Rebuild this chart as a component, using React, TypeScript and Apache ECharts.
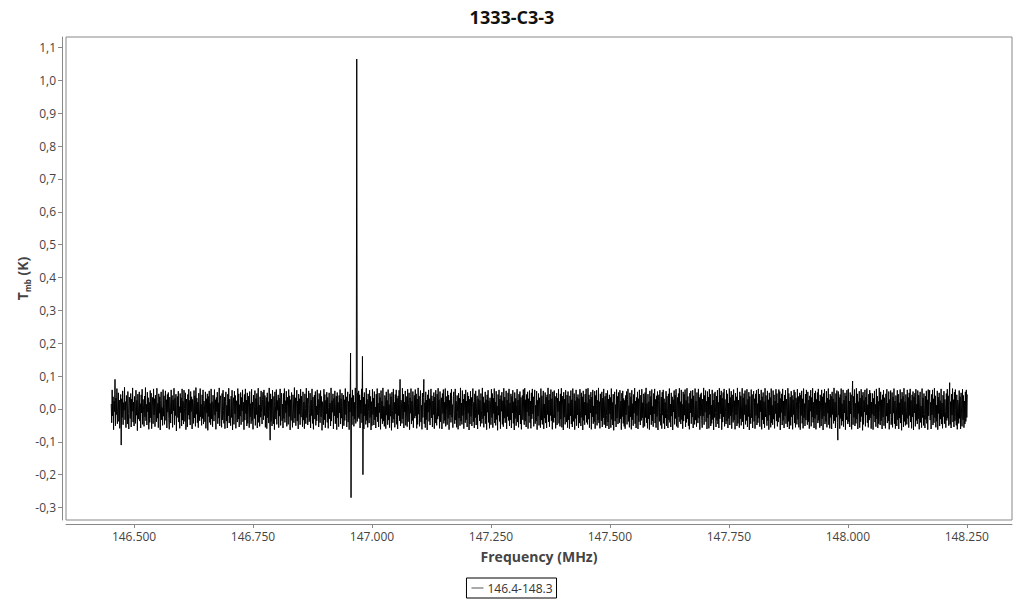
import React, { useEffect, useRef } from "react";
import * as echarts from "echarts";

const title = "1333-C3-3";
const seriesName = "146.4-148.3";
const xTicks = [146.5, 146.75, 147.0, 147.25, 147.5, 147.75, 148.0, 148.25];
const yTicks = [-0.3, -0.2, -0.1, 0.0, 0.1, 0.2, 0.3, 0.4, 0.5, 0.6, 0.7, 0.8, 0.9, 1.0, 1.1];
// channel grid (MHz)
const freqStart = 146.452;
const freqStep = 0.001;
// Tmb per channel, in mK
const tmbMilliK = [
  15,-42,58,-21,37,-63,24,-8,90,-51,33,-17,62,-45,6,49,-38,27,-59,12,44,-110,31,-26,55,-48,19,-4,66,-33,22,-57,41,9,-46,53,-14,-61,36,18,
  -29,47,-55,30,-7,64,-40,21,-52,38,3,-44,57,-19,26,-66,45,-31,11,52,-37,16,-58,43,-12,60,-47,29,-3,-53,39,-24,65,-36,14,-49,51,-9,34,-62,
  20,-41,56,-27,48,-60,8,35,-45,61,-18,31,-54,42,-6,-39,63,-28,17,-57,46,-13,37,-64,25,52,-33,4,-50,59,-22,40,-47,13,55,-35,28,-58,44,-10,
  50,-30,-62,36,19,-43,58,-15,41,-56,27,-5,63,-48,32,-20,45,-67,10,38,-26,54,-40,7,-59,47,-11,34,-52,61,-34,23,-46,57,1,-38,49,-63,30,16,
  -55,44,-19,60,-32,26,-49,53,-8,37,-61,29,12,-44,56,-27,40,-53,65,-16,33,-42,21,-57,48,-3,-36,62,-24,14,-50,43,-29,58,-46,24,6,-39,52,-59,
  31,-12,46,-65,38,-23,55,-41,17,-48,61,-30,22,-54,42,9,-37,59,-19,28,-62,35,-8,51,-45,19,-28,64,-52,26,40,-16,-56,47,-33,57,-5,-44,36,-60,
  23,52,-37,11,-58,45,-21,63,-43,30,-10,-51,39,-26,57,-64,18,34,-47,54,-15,41,-59,25,8,-40,62,-31,46,-55,13,-22,50,-48,35,-6,58,-39,20,-63,
  44,-34,61,-14,27,-52,49,-44,3,39,-57,53,-24,16,-45,60,-36,21,-62,42,7,-29,56,-50,32,-17,47,-58,24,63,-41,12,-53,37,-25,55,-11,-46,29,51,
  -33,58,-20,41,-56,14,35,-60,49,-27,22,-43,64,-9,-95,46,-38,30,-52,57,-18,-45,38,-63,52,10,-31,59,-47,26,-4,43,-57,33,-22,61,-50,19,48,-36,
  15,-58,47,-29,62,-41,25,-12,54,-53,36,8,-47,59,-23,40,-64,28,-35,50,-9,-56,43,18,-42,65,-28,34,-51,12,57,-37,24,-61,45,-16,31,-48,60,-25,
  39,-7,-54,52,-34,21,-60,46,2,-45,63,-26,33,-49,14,55,-39,-13,48,-58,27,-20,61,-44,36,-62,17,42,-31,53,-50,9,-36,58,-18,29,-55,47,-6,-42,
  56,-24,38,-65,22,11,-48,60,-33,44,-57,26,-15,51,-41,35,-59,4,49,-30,18,-52,64,-37,25,-10,46,-61,32,-21,55,-45,13,39,-63,50,-27,20,-54,41,
  -12,59,-46,31,-28,48,-60,7,42,-51,28,-35,62,-17,37,-55,16,52,-40,23,-63,45,-9,170,-270,34,-48,58,-22,41,-53,20,-31,64,-44,11,1065,-38,49,-26,
  55,-30,43,-58,27,-14,61,-42,160,-200,36,-61,50,-21,14,-47,63,-35,29,-56,46,-8,-43,57,-26,38,-64,22,-51,60,-17,33,-49,53,-33,6,-58,45,-24,62,
  -39,18,-55,48,-11,35,-62,56,-29,24,-45,64,-37,9,-53,41,30,-60,52,-19,26,-48,59,-34,13,-57,47,-22,37,-65,51,-5,-42,61,-31,20,-56,44,-15,58,
  -47,32,-61,40,-20,57,-36,90,-52,27,12,-44,63,-30,45,-58,21,-9,55,-50,38,-25,-54,60,-39,17,49,-63,34,-13,62,-46,24,-35,53,-57,8,41,-28,59,
  -21,46,-59,30,-47,64,-16,39,-53,22,56,-40,11,-62,48,-26,35,90,-45,19,-57,52,-33,27,-64,43,-10,58,-38,31,-49,15,61,-27,40,-55,24,-17,50,-60,
  36,-43,57,-8,-50,45,-31,63,-22,28,-59,53,-39,16,34,-61,47,-14,59,-44,21,-35,62,-53,38,-4,-48,55,-29,42,-63,26,-18,49,-41,60,-25,13,-57,37,
  52,-16,-45,61,-34,23,-56,41,-11,-62,48,-28,33,-51,64,-37,18,-47,56,-20,30,-60,45,-7,-42,58,-33,24,-55,50,-13,39,-64,29,-46,54,-23,35,-52,17,
  62,-39,20,-58,46,-27,55,-49,12,40,-61,31,-17,59,-36,26,-53,47,-5,-44,64,-30,37,-56,19,-21,52,-45,28,-63,43,-10,57,-41,25,-59,34,15,-48,60,
  -26,47,-57,33,-14,62,-43,21,-50,54,-32,9,-65,44,-19,58,-38,30,-60,41,-7,51,-47,25,-54,63,-28,36,-42,16,55,-61,27,-23,49,-35,61,-52,18,-33,
  46,-58,38,-12,57,-44,22,-64,50,-29,32,-51,14,60,-40,27,-56,45,-18,53,-46,35,-62,19,41,-33,59,-24,-48,63,-37,28,-55,44,-9,52,-60,31,-21,56,
  -42,24,-59,49,-30,61,-15,37,-53,29,58,-45,11,-37,54,-63,26,-22,47,-50,34,-6,-57,62,-34,40,-47,20,55,-61,15,-28,50,-43,36,-58,43,-17,64,-39,
  27,-54,45,-20,59,-36,31,-62,52,-13,-41,56,-27,38,-59,18,48,-49,33,-8,60,-44,23,-53,46,-31,63,-56,12,39,-64,51,-25,30,-47,57,-11,-40,42,-57,
  53,-33,17,-60,40,-21,56,-46,28,-55,62,-14,-38,47,-63,25,-29,58,-51,35,-18,44,-58,31,-43,60,-6,-52,49,-26,37,-64,55,-35,21,-48,45,-19,61,-41,
  19,-47,63,-31,43,-57,29,-12,51,-62,36,-24,58,-45,9,-39,54,-60,41,-16,57,-50,26,-34,64,-43,22,-59,46,-7,-36,52,-55,33,-27,61,-48,18,39,-58,
  48,-20,-52,56,-40,30,-61,43,-15,35,-57,62,-32,20,-49,45,-65,27,52,-37,13,-55,59,-28,38,-46,50,-10,-42,57,-30,24,-63,48,-23,55,-44,32,-53,26,
  -60,41,-18,53,-47,28,61,-38,10,-56,49,-24,37,-62,57,-33,16,-51,44,-13,63,-45,24,-58,35,-20,52,-61,31,-39,58,-8,-49,42,-35,60,-27,19,-57,46,
  33,-53,50,-26,64,-42,17,-59,45,-30,22,-63,55,-18,38,-48,59,-36,8,-54,47,-15,61,-43,29,-57,40,-23,53,-64,26,43,-38,57,-11,-50,36,-60,51,-19,
  58,-44,31,-61,20,-27,54,-52,39,-14,-58,46,-33,62,-41,15,-55,49,-22,37,-64,28,-9,56,-47,42,-29,60,-53,18,35,-57,47,-24,63,-39,22,-46,58,-32,
  14,-60,52,-37,45,-19,59,-55,26,-41,63,-30,38,-51,17,-62,48,-12,55,-45,31,-25,57,-58,40,-6,-47,62,-34,24,-54,50,-16,-43,61,-28,35,-63,44,-21,
  49,-36,-57,30,-22,64,-48,41,-10,56,-39,23,-61,53,-27,36,-59,60,-17,45,-52,12,-44,58,-32,27,-64,47,-26,52,-11,-55,39,-35,57,-46,20,-58,63,-30,
  42,-15,55,-63,33,-40,50,-24,61,-53,29,-8,-46,57,-37,46,-58,18,-29,62,-49,35,-21,54,-60,43,-13,-41,59,-34,25,-62,48,-18,37,-52,64,-44,27,-6,
  -57,52,-30,40,-50,21,63,-39,34,-61,47,-17,56,-47,13,-35,60,-55,29,-23,51,-64,38,-12,-45,59,-27,44,-58,20,54,-38,31,-60,46,-20,57,-49,16,-42,
  61,-28,45,-54,26,-9,58,-62,37,-33,50,-46,22,-57,63,-24,41,-15,-51,55,-36,28,-63,49,-19,35,-56,62,-42,11,-48,56,-31,43,-59,24,-14,60,-37,47,
  -53,18,-40,59,-26,53,-64,32,-11,46,-49,61,-35,24,-58,42,-21,57,-45,30,-8,-55,63,-38,47,-61,19,36,-50,54,-24,41,-62,28,-17,58,-43,51,-56,34,
  23,-47,60,-32,38,-56,14,49,-63,42,-20,55,-44,31,-59,62,-27,16,-52,45,-34,58,-15,-48,52,-39,27,-60,40,-7,57,-53,35,-25,63,-41,20,-58,48,-29,
  55,-62,29,-18,50,-43,61,-35,24,-57,43,-10,-52,58,-30,37,-64,47,-22,60,-46,19,-38,54,-56,33,-13,62,-48,28,-59,45,-26,39,-61,52,-17,31,-44,64,
  -36,21,-58,47,-25,56,-41,-95,53,-19,35,-60,44,-29,62,-50,16,-37,58,-54,27,-12,49,-63,40,-33,57,-21,-46,61,-39,24,-55,50,-15,43,-62,30,85,-48,
  38,-26,59,-52,17,-44,63,-31,46,-61,22,-14,54,-57,33,-39,60,-23,41,-65,51,-47,26,-9,58,-53,36,-18,62,-42,13,-56,45,-34,57,-27,48,-60,21,-16,
  47,-63,32,-21,55,-40,14,-54,61,-30,39,-58,23,-45,64,-11,-49,52,-36,28,-61,43,-25,57,-51,34,-4,-59,46,-22,60,-43,18,-37,53,-62,29,-15,56,-48,
  -27,50,-56,36,-13,62,-45,24,-60,41,8,-52,57,-33,45,-61,19,-28,59,-43,30,-65,51,-17,38,-55,63,-38,22,-50,44,-9,-47,58,-29,35,-57,49,-20,61,
  -40,26,-59,43,-24,53,-64,37,-12,48,-53,60,-35,15,-46,56,-30,42,-62,21,52,-41,9,-57,62,-26,34,-50,47,-17,-58,39,-32,55,-44,28,-63,59,-21,33,
  57,-34,20,-61,44,-18,58,-49,31,-42,63,-27,40,-56,12,-38,55,-63,36,-14,49,-52,25,-31,61,-46,18,-59,42,-23,54,-45,29,-8,-57,47,-35,60,-28,40,
  -51,33,80,-47,22,-58,45,-19,62,-40,28,-55,51,-36,59,-24,-50,43,-62,27,16,-44,56,-29,37,-61,49,-15,-53,60,-33,41,-57,24,-46,52,-38,58,-26,44,
];

const FONT = "'Open Sans', 'Noto Sans', sans-serif";

export default function App() {
  const ref = useRef<HTMLDivElement>(null);
  useEffect(() => {
    if (!ref.current) return;
    const chart = echarts.init(ref.current, null, { renderer: "svg" });
    const data = tmbMilliK.map((mk, i) => [freqStart + i * freqStep, mk / 1000]);
    chart.setOption({
      animation: false,
      textStyle: { fontFamily: FONT },
      title: {
        text: title,
        left: "center",
        top: 3,
        textStyle: { fontFamily: FONT, fontSize: 18, fontWeight: "bold", color: "#111" },
      },
      legend: {
        bottom: 2,
        left: "center",
        data: [seriesName],
        borderColor: "#000",
        borderWidth: 1,
        borderRadius: 0,
        padding: [4, 4, 4, 5],
        itemWidth: 12,
        itemHeight: 1,
        itemGap: 4,
        icon: "rect",
        textStyle: { fontFamily: FONT, fontSize: 12, color: "#333", padding: [0, 0, 0, -1] },
      },
      grid: {
        left: 66,
        right: 12,
        top: 37,
        bottom: 80,
        show: true,
        borderColor: "#888",
        borderWidth: 1,
        containLabel: false,
      },
      xAxis: {
        type: "value",
        min: 146.357,
        max: 148.345,
        offset: 4,
        name: "Frequency (MHz)",
        nameLocation: "middle",
        nameGap: 25,
        nameTextStyle: { fontFamily: FONT, fontSize: 14, fontWeight: "bold", color: "#444" },
        axisLine: { show: true, onZero: false, lineStyle: { color: "#888", width: 1 } },
        axisTick: { show: true, length: 4, customValues: xTicks, lineStyle: { color: "#888" } },
        axisLabel: {
          customValues: xTicks,
          fontFamily: FONT,
          fontSize: 12,
          color: "#444",
          margin: 6,
          formatter: (v: number) => v.toFixed(3),
        },
        splitLine: { show: false },
      },
      yAxis: {
        type: "value",
        min: -0.338,
        max: 1.132,
        offset: 4,
        name: "{t|T}{s|mb}{t| (K)}",
        nameLocation: "middle",
        nameGap: 31,
        nameMoveOverlap: false,
        nameTextStyle: {
          fontFamily: FONT,
          fontSize: 14,
          fontWeight: "bold",
          color: "#444",
          rich: {
            t: { fontFamily: FONT, fontSize: 14, fontWeight: "bold", color: "#444", lineHeight: 18 },
            s: { fontFamily: FONT, fontSize: 8, fontWeight: "bold", color: "#444", lineHeight: 18, verticalAlign: "bottom", padding: [6, 0, 0, 0] },
          },
        },
        axisLine: { show: true, onZero: false, lineStyle: { color: "#888", width: 1 } },
        axisTick: { show: true, length: 4, customValues: yTicks, lineStyle: { color: "#888" } },
        axisLabel: {
          customValues: yTicks,
          fontFamily: FONT,
          fontSize: 12,
          color: "#444",
          margin: 6,
          formatter: (v: number) => v.toFixed(1).replace(".", ","),
        },
        splitLine: { show: false },
      },
      series: [
        {
          name: seriesName,
          type: "line",
          data,
          showSymbol: false,
          symbol: "none",
          lineStyle: { color: "#000", width: 1 },
          itemStyle: { color: "#555" },
        },
      ],
    });
    return () => chart.dispose();
  }, []);
  return <div ref={ref} style={{ width: 1024, height: 600, position: "absolute", left: 0, top: 0 }} />;
}
